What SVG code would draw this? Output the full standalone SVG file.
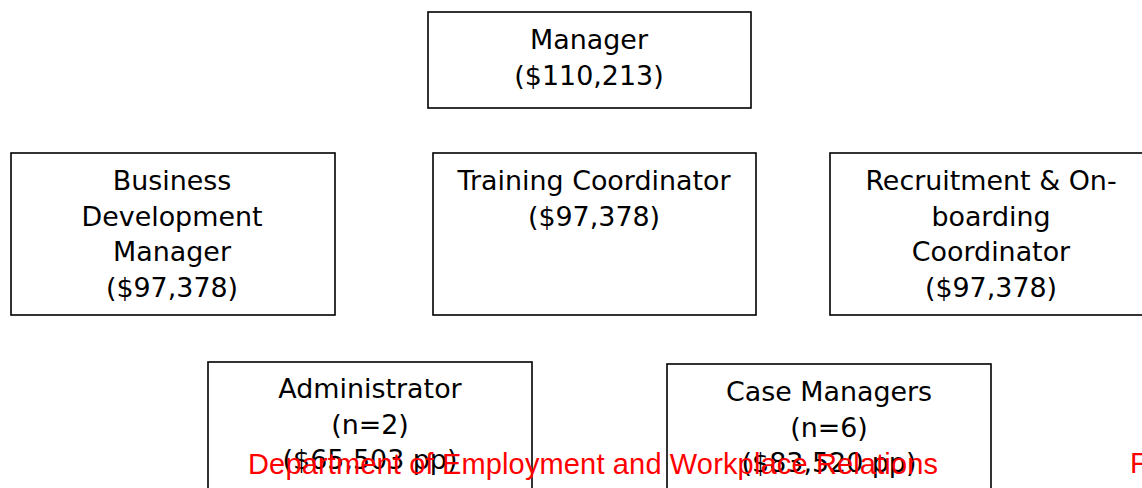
<svg xmlns="http://www.w3.org/2000/svg" width="1142" height="488" viewBox="0 0 1142 488">
  <style>
    .box { fill: #ffffff; stroke: #000000; stroke-width: 1.6; }
    .lbl { font-family: "DejaVu Sans", Verdana, sans-serif; font-size: 26.9px; fill: #000000; text-anchor: middle; }
    .foot { font-family: "Liberation Sans", Arial, sans-serif; font-size: 29px; fill: #ff0000; }
  </style>
  <rect x="0" y="0" width="1142" height="488" fill="#ffffff"/>

  <!-- reporting lines (none drawn) -->
  <g id="connectors"></g>

  <g id="manager">
    <rect class="box" x="428" y="12" width="323" height="96"/>
    <text class="lbl" x="589" y="49">Manager</text>
    <text class="lbl" x="589" y="85">($110,213)</text>
  </g>

  <g id="business-development-manager">
    <rect class="box" x="11" y="153" width="324" height="162"/>
    <text class="lbl" x="172" y="190">Business</text>
    <text class="lbl" x="172" y="226">Development</text>
    <text class="lbl" x="172" y="261">Manager</text>
    <text class="lbl" x="172" y="297">($97,378)</text>
  </g>

  <g id="training-coordinator">
    <rect class="box" x="433" y="153" width="323" height="162"/>
    <text class="lbl" x="594" y="190">Training Coordinator</text>
    <text class="lbl" x="594" y="226">($97,378)</text>
  </g>

  <g id="recruitment-coordinator">
    <rect class="box" x="830" y="153" width="324" height="162"/>
    <text class="lbl" x="991" y="190">Recruitment &amp; On-</text>
    <text class="lbl" x="991" y="226">boarding</text>
    <text class="lbl" x="991" y="261">Coordinator</text>
    <text class="lbl" x="991" y="297">($97,378)</text>
  </g>

  <g id="administrator">
    <rect class="box" x="208" y="362" width="324" height="162"/>
    <text class="lbl" x="370" y="398">Administrator</text>
    <text class="lbl" x="370" y="434">(n=2)</text>
    <text class="lbl" x="370" y="469">($65,503 pp)</text>
  </g>

  <g id="case-managers">
    <rect class="box" x="667" y="364" width="324" height="162"/>
    <text class="lbl" x="829" y="401">Case Managers</text>
    <text class="lbl" x="829" y="437">(n=6)</text>
    <text class="lbl" x="829" y="472">($83,520 pp)</text>
  </g>

  <!-- page footer -->
  <g id="footer">
    <text class="foot" x="248" y="474" textLength="690" lengthAdjust="spacing">Department of Employment and Workplace Relations</text>
    <text class="foot" x="1130" y="473">F</text>
  </g>
</svg>
